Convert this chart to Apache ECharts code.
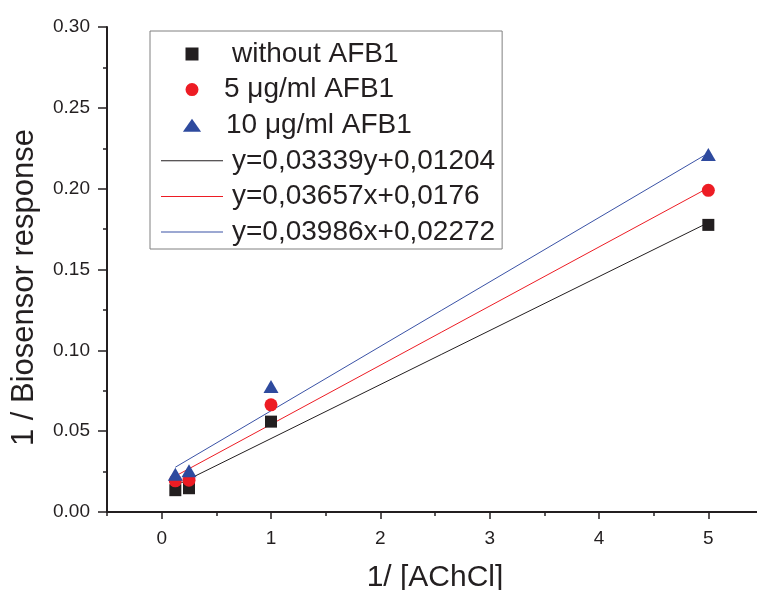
<!DOCTYPE html>
<html>
<head>
<meta charset="utf-8">
<script src="https://cdn.jsdelivr.net/npm/echarts@6/dist/echarts.min.js"></script>
<style>html,body{margin:0;padding:0;background:#fff;}#chart{width:757px;height:590px;}</style>
</head>
<body>
<div id="chart"></div>
<script>
// ---- data ----
var xValues = [0.125, 0.25, 1, 5];
var withoutAFB1 = [0.0135, 0.0147, 0.0559, 0.1776];
var afb5 = [0.0193, 0.0197, 0.0663, 0.199];
var afb10 = [0.0234, 0.0255, 0.0776, 0.2211];
var fitX = [0.125, 5];
var fitWithout = [0.0162, 0.179];
var fit5 = [0.0222, 0.2005];
var fit10 = [0.0277, 0.222];
var seriesNames = ['without AFB1', '5 \u03bcg/ml AFB1', '10 \u03bcg/ml AFB1'];
var fitNames = ['y=0,03339y+0,01204', 'y=0,03657x+0,0176', 'y=0,03986x+0,02272'];
var xTicks = [0, 1, 2, 3, 4, 5];
var xMinorTicks = [-0.5, 0.5, 1.5, 2.5, 3.5, 4.5, 5.5];
var yTicks = ['0.00', '0.05', '0.10', '0.15', '0.20', '0.25', '0.30'];

function pairs(xs, ys) { return xs.map(function (x, i) { return [x, ys[i]]; }); }

var FONT = 'Liberation Sans, Arial, sans-serif';
var INK = '#231f20';
var BLACK = '#231f20', RED = '#ed1c24', BLUE = '#2e4a9e', BLUE_LINE = '#3a52a6';

var ICON_SQUARE = 'path://M0,0 L10,0 L10,10 L0,10 Z';
var ICON_CIRCLE = 'path://M5,0 A5,5 0 1 1 4.999,0 Z';
var ICON_TRI = 'path://M7,0 L14,10 L0,10 Z';
var ICON_LINE = 'path://M0,0 L62,0 L62,1 L0,1 Z';

var chart = echarts.init(document.getElementById('chart'), null, {renderer: 'canvas'});
chart.setOption({
  animation: false,
  backgroundColor: '#fff',
  grid: {left: 107, top: 27, width: 656, height: 485, containLabel: false, outerBoundsMode: 'none'},
  xAxis: [{
    type: 'value', min: -0.5, max: 5.5,
    name: '1/ [AChCl]', nameLocation: 'middle', nameGap: 51,
    nameTextStyle: {fontFamily: FONT, fontSize: 30, color: INK},
    axisLine: {show: true, onZero: false, lineStyle: {color: INK, width: 2}},
    axisTick: {show: true, length: 7, customValues: xTicks, lineStyle: {color: INK, width: 1.5}},
    splitLine: {show: false},
    axisLabel: {
      fontFamily: FONT, fontSize: 19, color: INK, margin: 17,
      customValues: xTicks,
      formatter: function (v) { return String(v); }
    }
  }, {
    type: 'value', min: -0.5, max: 5.5, position: 'bottom', gridIndex: 0,
    axisLine: {show: false, onZero: false},
    axisTick: {show: true, length: 4, customValues: xMinorTicks, lineStyle: {color: INK, width: 1.5}},
    axisLabel: {show: false},
    splitLine: {show: false}
  }],
  yAxis: {
    type: 'value', min: 0, max: 0.3, interval: 0.05,
    name: '1 / Biosensor response', nameLocation: 'middle', nameGap: 67, nameRotate: 90,
    nameTextStyle: {fontFamily: FONT, fontSize: 31, color: INK, padding: [0, 36, 0, 0]},
    axisLine: {show: true, onZero: false, lineStyle: {color: INK, width: 2}},
    axisTick: {show: true, length: 9, lineStyle: {color: INK, width: 1.5}},
    minorTick: {show: true, splitNumber: 2, length: 4, lineStyle: {color: INK, width: 1.5}},
    splitLine: {show: false},
    axisLabel: {
      fontFamily: FONT, fontSize: 19, color: INK, margin: 17,
      formatter: function (v) { return yTicks[Math.round(v / 0.05)]; }
    }
  },
  legend: {
    orient: 'vertical', left: 150, top: 31,
    padding: [9, 7, 3, 11],
    borderColor: '#808080', borderWidth: 1,
    itemWidth: 62, itemHeight: 13, itemGap: 7.6,
    symbolKeepAspect: true,
    textStyle: {fontFamily: FONT, fontSize: 28, color: INK, lineHeight: 28, padding: [0, 0, 0, 0]},
    data: [
      {name: seriesNames[0], icon: ICON_SQUARE, textStyle: {padding: [0, 0, 0, 4]}},
      {name: seriesNames[1], icon: ICON_CIRCLE, textStyle: {padding: [0, 0, 0, -4]}},
      {name: seriesNames[2], icon: ICON_TRI, textStyle: {padding: [0, 0, 0, -2]}},
      {name: fitNames[0], icon: ICON_LINE, textStyle: {padding: [0, 0, 0, 4]}},
      {name: fitNames[1], icon: ICON_LINE, textStyle: {padding: [0, 0, 0, 4]}},
      {name: fitNames[2], icon: ICON_LINE, textStyle: {padding: [0, 0, 0, 4]}}
    ]
  },
  series: [
    {name: fitNames[0], type: 'line', data: pairs(fitX, fitWithout), symbol: 'none',
     lineStyle: {color: BLACK, width: 1}, itemStyle: {color: BLACK}, z: 2},
    {name: fitNames[1], type: 'line', data: pairs(fitX, fit5), symbol: 'none',
     lineStyle: {color: RED, width: 1}, itemStyle: {color: RED}, z: 2},
    {name: fitNames[2], type: 'line', data: pairs(fitX, fit10), symbol: 'none',
     lineStyle: {color: BLUE_LINE, width: 1}, itemStyle: {color: BLUE_LINE}, z: 2},
    {name: seriesNames[0], type: 'scatter', data: pairs(xValues, withoutAFB1), symbol: 'rect',
     symbolSize: 12, itemStyle: {color: BLACK, opacity: 1}, z: 3},
    {name: seriesNames[1], type: 'scatter', data: pairs(xValues, afb5), symbol: 'circle',
     symbolSize: 13, itemStyle: {color: RED, opacity: 1}, z: 4},
    {name: seriesNames[2], type: 'scatter', data: pairs(xValues, afb10), symbol: 'triangle',
     symbolSize: [15, 13], itemStyle: {color: BLUE, opacity: 1}, z: 5}
  ]
});
</script>
</body>
</html>
